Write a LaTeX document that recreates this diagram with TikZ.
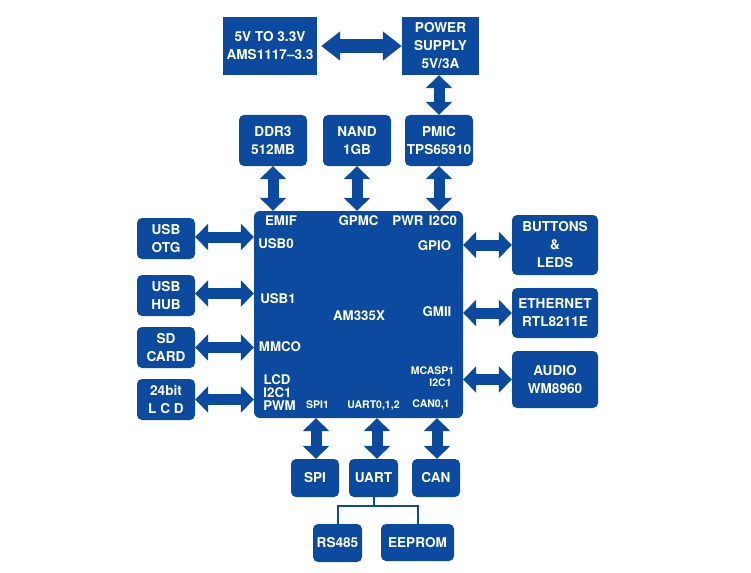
\documentclass[tikz,border=0pt]{standalone}
\usepackage{fontspec}
\setmainfont{TeX Gyre Heros}
\usetikzlibrary{arrows.meta}
\definecolor{tiblue}{RGB}{11,74,158}
\begin{document}
\begin{tikzpicture}[x=1pt,y=-1pt,
  box/.style={fill=tiblue,draw=none,rounded corners=5pt,text=white,align=center,
    font=\fontsize{13.6}{18}\selectfont\bfseries,inner sep=0pt},
  sqbox/.style={box,rounded corners=0pt},
  lbl/.style={text=white,font=\fontsize{13.3}{13}\selectfont\bfseries,inner sep=0pt},
  slbl/.style={text=white,font=\fontsize{10.5}{12}\selectfont\bfseries,inner sep=0pt},
  dbl/.style={draw=tiblue,line width=11pt,
    arrows={Triangle[width=26pt,length=13pt]-Triangle[width=26pt,length=13pt]}},
  bigdbl/.style={draw=tiblue,line width=14pt,
    arrows={Triangle[width=28pt,length=19pt]-Triangle[width=28pt,length=19pt]}},
  tree/.style={draw=tiblue,line width=2pt}
]
\useasboundingbox (0,0) rectangle (751,572);
% top row
\node[sqbox,minimum width=94pt,minimum height=58pt] (vreg) at (270,46) {5V TO 3.3V\\AMS1117--3.3};
\node[sqbox,minimum width=77pt,minimum height=58pt] (psu) at (440.5,46) {POWER\\SUPPLY\\5V/3A};
\node[box,minimum width=68pt,minimum height=51pt] (ddr) at (273,140.5) {DDR3\\512MB};
\node[box,minimum width=68pt,minimum height=51pt] (nand) at (357,140.5) {NAND\\1GB};
\node[box,minimum width=68pt,minimum height=51pt] (pmic) at (439,140.5) {PMIC\\TPS65910};
% main
\node[box,rounded corners=6pt,minimum width=209pt,minimum height=207pt] (main) at (358.5,314.5) {};
% left
\node[box,minimum width=58pt,minimum height=41pt] (otg) at (166,238.5) {USB\\OTG};
\node[box,minimum width=58pt,minimum height=41pt] (hub) at (166,295.5) {USB\\HUB};
\node[box,minimum width=58pt,minimum height=41pt] (sd) at (166,347.5) {SD\\CARD};
\node[box,minimum width=58pt,minimum height=41pt] (lcd) at (166,399.5) {24bit\\L C D};
% right
\node[box,minimum width=86pt,minimum height=60pt] (btn) at (555,245) {BUTTONS\\\&\\LEDS};
\node[box,minimum width=86pt,minimum height=50pt] (eth) at (555,313) {ETHERNET\\RTL8211E};
\node[box,minimum width=86pt,minimum height=57pt] (aud) at (555,379.5) {AUDIO\\WM8960};
% bottom
\node[box,minimum width=48pt,minimum height=38pt] (spi) at (315,478) {SPI};
\node[box,minimum width=49pt,minimum height=38pt] (uart) at (373.5,478) {UART};
\node[box,minimum width=48pt,minimum height=38pt] (can) at (436,478) {CAN};
\node[box,minimum width=49pt,minimum height=38pt] (rs) at (337.5,543) {RS485};
\node[box,minimum width=73pt,minimum height=37pt] (eep) at (417.5,542.5) {EEPROM};
% main labels
\node[lbl] (l-emif) at (281,221) {EMIF};
\node[lbl] (l-gpmc) at (358.5,221) {GPMC};
\node[lbl] (l-pwr) at (408,221) {PWR};
\node[lbl] (l-i2c0) at (443,221) {I2C0};
\node[lbl] (l-usb0) at (276,244) {USB0};
\node[lbl] (l-gpio) at (434.5,245.5) {GPIO};
\node[lbl] (l-usb1) at (278,299) {USB1};
\node[lbl] (l-am) at (359,316) {AM335X};
\node[lbl] (l-gmii) at (437,311.5) {GMII};
\node[lbl] (l-mmc) at (280,347) {MMCO};
\node[slbl] (l-mcasp) at (432.5,370.5) {MCASP1};
\node[slbl] (l-i2c1r) at (440.5,382.5) {I2C1};
\node[lbl] (l-lcd) at (277,380) {LCD};
\node[lbl] (l-i2c1l) at (277.5,392.5) {I2C1};
\node[lbl] (l-pwm) at (279.5,405.5) {PWM};
\node[slbl] (l-spi1) at (317.5,405) {SPI1};
\node[slbl] (l-uart) at (373.5,405.5) {UART0,1,2};
\node[slbl] (l-can) at (431,405) {CAN0,1};
% arrows
\draw[bigdbl] ([xshift=4pt]vreg.east) -- (vreg.east -| psu.west);
\draw[dbl] (pmic.north) -- (pmic.north |- psu.south);
\draw[dbl] (ddr.south) -- (ddr.south |- main.north);
\draw[dbl] (nand.south) -- (nand.south |- main.north);
\draw[dbl] (pmic.south) -- (pmic.south |- main.north);
\draw[dbl] ([yshift=1.5pt]otg.east) -- ([yshift=1.5pt]otg.east -| main.west);
\draw[dbl] ([yshift=2pt]hub.east) -- ([yshift=2pt]hub.east -| main.west);
\draw[dbl] (sd.east) -- (sd.east -| main.west);
\draw[dbl] (lcd.east) -- (lcd.east -| main.west);
\draw[dbl] (btn.west) -- (btn.west -| main.east);
\draw[dbl] (eth.west) -- (eth.west -| main.east);
\draw[dbl] (aud.west) -- (aud.west -| main.east);
\draw[dbl] ([xshift=1pt]spi.north) -- ([xshift=1pt]spi.north |- main.south);
\draw[dbl] ([xshift=3.5pt]uart.north) -- ([xshift=3.5pt]uart.north |- main.south);
\draw[dbl] ([xshift=1pt]can.north) -- ([xshift=1pt]can.north |- main.south);
% tree
\coordinate (tj) at (374,506);
\draw[tree] ([xshift=0.5pt]uart.south) -- ([xshift=0.5pt]uart.south |- tj);
\draw[tree] (rs.north) |- (tj) -| (eep.north);
\end{tikzpicture}
\end{document}
